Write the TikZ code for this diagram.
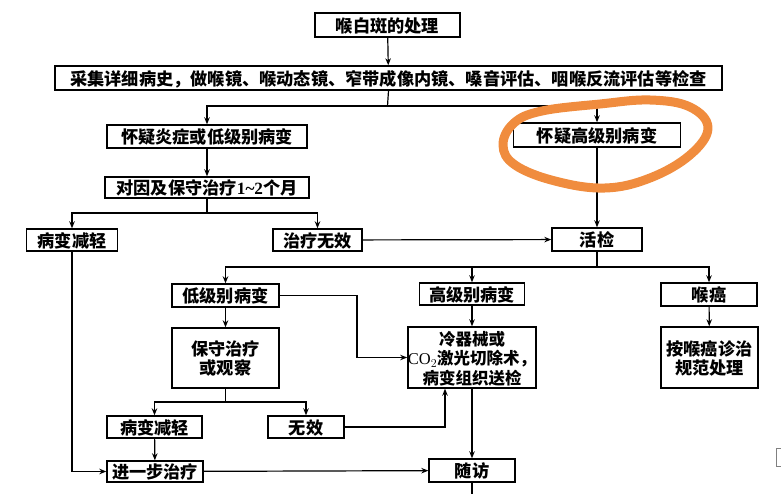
\documentclass[tikz,border=0pt]{standalone}
\usepackage{fontspec}
\setmainfont{Noto Sans CJK SC}
\newfontfamily\latinfont{Liberation Serif}
\usetikzlibrary{arrows.meta}
\definecolor{hl}{RGB}{240,140,62}
\tikzset{
  box/.style={draw, line width=1.4pt, inner sep=0pt, align=center,
    font=\fontsize{17.2}{19}\selectfont\bfseries, text depth=0pt},
  conn/.style={line width=1.2pt},
  arr/.style={conn, -{Stealth[length=7pt,width=5.5pt]}},
}
\begin{document}
\begin{tikzpicture}[x=1pt,y=-1pt]
\useasboundingbox (0,0) rectangle (781,494);
% nodes
\node[box, minimum width=145pt, minimum height=24pt] (title) at (387.5,25) {喉白斑的处理};
\node[box, minimum width=667pt, minimum height=24pt] (exam) at (388.5,78) {采集详细病史，做喉镜、喉动态镜、窄带成像内镜、嗓音评估、咽喉反流评估等检查};
\node[box, minimum width=200pt, minimum height=23pt] (susLow) at (207,136.5) {怀疑炎症或低级别病变};
\node[box, minimum width=167pt, minimum height=24pt] (susHigh) at (597,135) {怀疑高级别病变};
\node[box, minimum width=204pt, minimum height=21pt] (cons) at (207,187.5) {对因及保守治疗{\latinfont 1\textasciitilde2}个月};
\node[box, minimum width=91pt, minimum height=22pt] (relief1) at (72,240) {病变减轻};
\node[box, minimum width=89pt, minimum height=22pt] (ineff) at (317.5,240) {治疗无效};
\node[box, minimum width=90pt, minimum height=23pt] (biopsy) at (597,239.5) {活检};
\node[box, minimum width=107pt, minimum height=23pt] (low) at (225.5,295.5) {低级别病变};
\node[box, minimum width=105pt, minimum height=22pt] (high) at (472,294) {高级别病变};
\node[box, minimum width=96pt, minimum height=23pt] (cancer) at (709,294.5) {喉癌};
\node[box, minimum width=107pt, minimum height=60pt] (observe) at (225.5,358) {保守治疗\\或观察};
\node[box, minimum width=128pt, minimum height=61pt, font=\fontsize{16.5}{19.5}\selectfont\bfseries] (excision) at (472,357.5) {冷器械或\\{\mdseries\latinfont CO$_2$}激光切除术，\\病变组织送检};
\node[box, minimum width=97pt, minimum height=61pt] (cancerTx) at (709.5,357.5) {按喉癌诊治\\规范处理};
\node[box, minimum width=95pt, minimum height=22pt] (relief2) at (154.5,427) {病变减轻};
\node[box, minimum width=76pt, minimum height=22pt] (invalid) at (306,427) {无效};
\node[box, minimum width=96pt, minimum height=21pt] (further) at (155,471.5) {进一步治疗};
\node[box, minimum width=86pt, minimum height=23pt] (follow) at (472,470.5) {随访};
% junctions
\coordinate (j1) at (387.5,106);
\coordinate (j2) at (207,213);
\coordinate (j3) at (597,267);
\coordinate (j4) at (225.5,402);
\coordinate (bend1) at (357,295.5);
\coordinate (bend2) at (445,427);
\coordinate (bend3) at (72,471.5);
\coordinate (tail) at (472,494);
% connectors
\draw[arr] (title) -- (exam);
\draw[conn] (exam.south) -- (j1);
\draw[arr] (j1) -| (susLow.north);
\draw[arr] (j1) -| (susHigh.north);
\draw[arr] (susLow) -- (cons);
\draw[conn] (cons.south) -- (j2);
\draw[arr] (j2) -| (relief1.north);
\draw[arr] (j2) -| (ineff.north);
\draw[arr] (ineff) -- (biopsy);
\draw[arr] (susHigh) -- (biopsy);
\draw[conn] (biopsy.south) -- (j3);
\draw[arr] (j3) -| (low.north);
\draw[arr] (j3) -| (high.north);
\draw[arr] (j3) -| (cancer.north);
\draw[arr] (low) -- (observe);
\draw[arr] (high) -- (excision);
\draw[arr] (cancer) -- (cancerTx);
\draw[arr] (low.east) -- (bend1) |- (excision.west);
\draw[conn] (observe.south) -- (j4);
\draw[arr] (j4) -| (relief2.north);
\draw[arr] (j4) -| (invalid.north);
\draw[arr] (invalid.east) -- (bend2) -- (bend2 |- excision.south);
\draw[arr] (relief2) -- (further);
\draw[arr] (relief1.south) -- (bend3) -- (further.west);
\draw[arr] (further) -- (follow);
\draw[arr] (excision) -- (follow);
\draw[conn] (follow.south) -- (tail);
% edge fragment
\draw[gray, line width=0.8pt] (781,448) -- (776,448) -- (776,466) -- (781,466);
% orange hand-drawn loop
\draw[hl, line width=9pt, line cap=round, line join=round]
  plot[smooth cycle, tension=0.65] coordinates {(542,111) (600,104) (650,100) (690,107) (708,128) (690,155) (650,178) (605,188) (555,181) (515,165) (503,145) (514,123)};
\end{tikzpicture}
\end{document}
